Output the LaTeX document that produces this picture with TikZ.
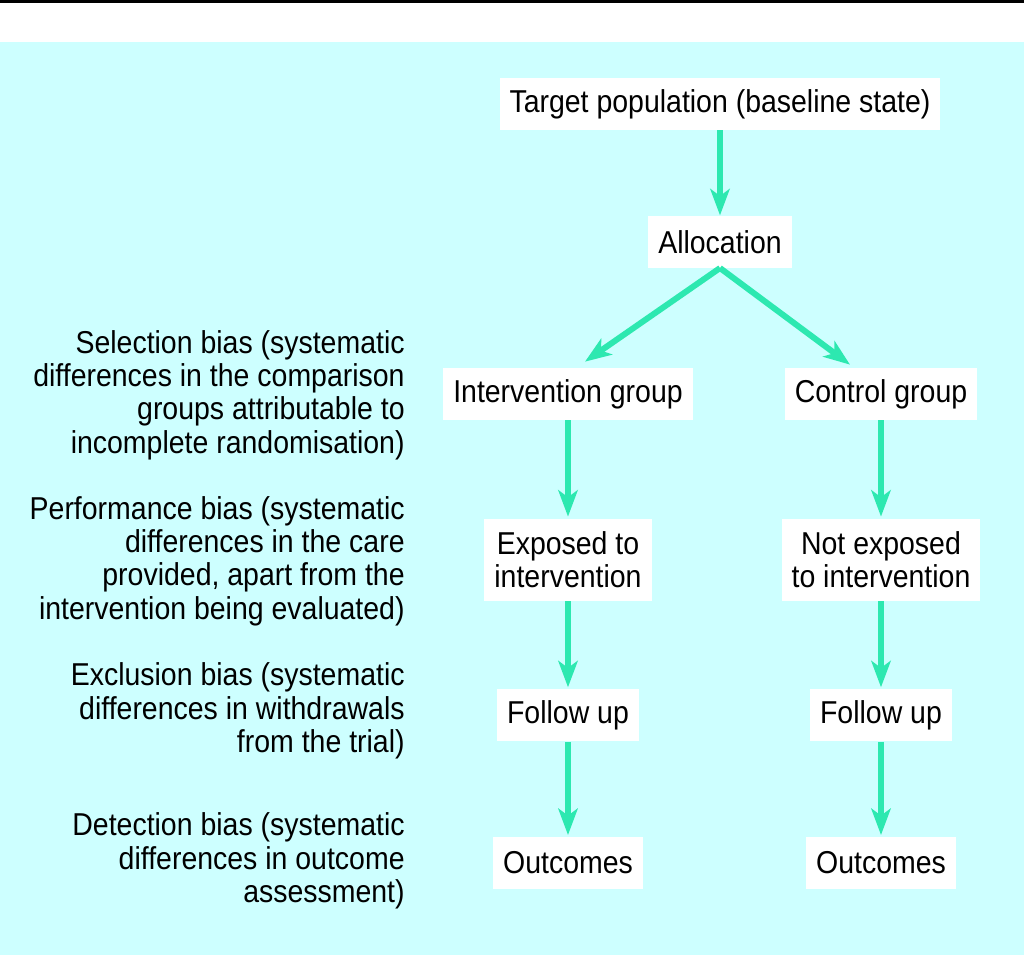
\documentclass[tikz,border=0pt]{standalone}
\usepackage{fontspec}
\setmainfont{Liberation Sans}[FakeStretch=0.9]
\usetikzlibrary{positioning,arrows.meta}
\usepackage{xcolor}
\definecolor{bgcyan}{RGB}{205,255,255}
\definecolor{arrowgreen}{RGB}{45,232,176}

\begin{document}
\begin{tikzpicture}[
        every node/.style={font=\fontsize{18}{19}\selectfont},
        stage/.style={fill=white, inner xsep=0.2cm, inner ysep=0pt, minimum height=1.04cm, align=center},
        stage2/.style={stage, minimum height=1.64cm},
        bias/.style={anchor=east, align=right, inner sep=0pt},
        arrow/.style={-{Stealth[length=15pt, width=11pt, inset=4pt]}, line width=3.4pt, arrowgreen}
    ]
        % Background and frame
        \fill[white] (0,0) rectangle (20.48,19.1);
        \fill[bgcyan] (0,0) rectangle (20.48,18.26);
        \fill[black] (0,19.04) rectangle (20.48,19.1);
        \useasboundingbox (0,0) rectangle (20.48,19.1);

        % Top of the trial
        \node[stage] (tgt) at (14.4,17.02) {Target population (baseline state)};
        \node[stage, below=1.7cm of tgt] (alc) {Allocation};

        % Two arms
        \node[stage] (ig) at (11.36,11.22) {Intervention group};
        \node[stage] (cg) at (17.62,11.22) {Control group};

        \node[stage2, below=1.96cm of ig] (exp) {Exposed to\\intervention};
        \node[stage2, below=1.96cm of cg] (nexp) {Not exposed\\to intervention};

        \node[stage, below=1.76cm of exp] (fu1) {Follow up};
        \node[stage, below=1.76cm of nexp] (fu2) {Follow up};

        \node[stage, below=1.9cm of fu1] (out1) {Outcomes};
        \node[stage, below=1.9cm of fu2] (out2) {Outcomes};

        % Bias labels
        \node[bias] (sel) at (8.1,11.2) {Selection bias (systematic\\differences in the comparison\\groups attributable to\\incomplete randomisation)};
        \node[bias] (perf) at (8.1,7.88) {Performance bias (systematic\\differences in the care\\provided, apart from the\\intervention being evaluated)};
        \node[bias] (excl) at (8.1,4.88) {Exclusion bias (systematic\\differences in withdrawals\\from the trial)};
        \node[bias] (det) at (8.1,1.88) {Detection bias (systematic\\differences in outcome\\assessment)};

        % Arrows
        \draw[arrow] (tgt) -- (alc);
        \draw[arrow] (alc.south) -- ([xshift=0.34cm,yshift=0.12cm]ig.north);
        \draw[arrow] (alc.south) -- ([xshift=-0.62cm,yshift=0.06cm]cg.north);
        \draw[arrow, shorten >=1pt] (ig) -- (exp);
        \draw[arrow, shorten >=1pt] (cg) -- (nexp);
        \draw[arrow, shorten >=1pt] (exp) -- (fu1);
        \draw[arrow, shorten >=1pt] (nexp) -- (fu2);
        \draw[arrow, shorten >=1pt] (fu1) -- (out1);
        \draw[arrow, shorten >=1pt] (fu2) -- (out2);
    \end{tikzpicture}
\end{document}
